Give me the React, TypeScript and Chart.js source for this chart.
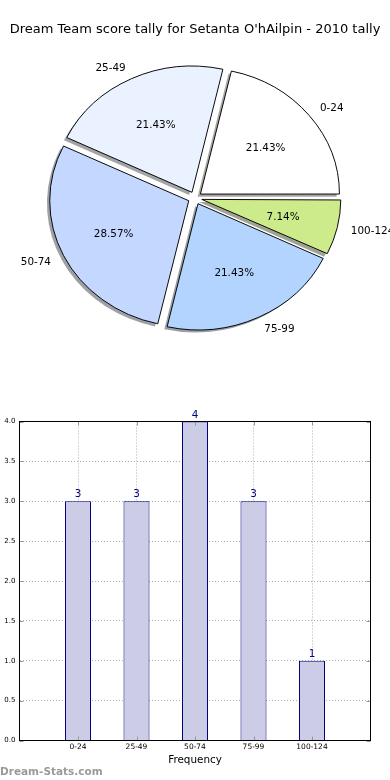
import React, { useEffect, useRef } from 'react';
import { Chart, registerables } from 'chart.js';

Chart.register(...registerables);

// ---- data ----
const TITLE = "Dream Team score tally for Setanta O'hAilpin - 2010 tally";
const CATEGORIES = ['0-24', '25-49', '50-74', '75-99', '100-124'];
const COUNTS = [3, 3, 4, 3, 1];
const SLICE_COLORS = ['#ffffff', '#eaf2ff', '#c4d8ff', '#b3d4ff', '#cdeb8b'];
const Y_MIN = 0;
const Y_MAX = 4;
const Y_STEP = 0.5;
const X_AXIS_TITLE = 'Frequency';
const WATERMARK = 'Dream-Stats.com';

// ---- style ----
const FONT = '"DejaVu Sans", sans-serif';
const PIE_RADIUS = 139;
const EXPLODE = 6.95;
const Y_SQUASH = 0.908;
const SHADOW_DX = -2.8;
const SHADOW_DY = 2.6;
const BAR_FILL = '#ccccE6';
const BAR_EDGE = '#000080';
const GRID_COLOR = '#b0b0b0';
const TEXT_NUDGE = 1;

function shadowColor(hex: string) {
  const h = hex.replace('#', '');
  const r = parseInt(h.slice(0, 2), 16) * 0.3;
  const g = parseInt(h.slice(2, 4), 16) * 0.3;
  const b = parseInt(h.slice(4, 6), 16) * 0.3;
  return `rgba(${r.toFixed(0)},${g.toFixed(0)},${b.toFixed(0)},0.5)`;
}

function sliceGeom(el: any) {
  const o = (el.options.offset || 0) / 4;
  const fix = 1 - Math.sin(Math.min(Math.PI, el.circumference || 0));
  return { shift: o, radius: el.outerRadius + o * fix };
}

const piePlugin = {
  id: 'pieExtras',
  afterDatasetsUpdate(chart: any) {
    chart.getDatasetMeta(0).data.forEach((el: any) => {
      const o = (el.options.offset || 0) / 4;
      const fix = 1 - Math.sin(Math.min(Math.PI, el.circumference || 0));
      el.outerRadius -= o * fix;
    });
  },
  beforeDatasetsDraw(chart: any) {
    const { ctx } = chart;
    const meta = chart.getDatasetMeta(0);
    const el0 = meta.data[0];
    const cx = el0.x;
    const cy = el0.y;
    ctx.save();
    ctx.translate(cx, cy);
    ctx.scale(1, Y_SQUASH);
    ctx.translate(-cx, -cy);
    meta.data.forEach((el: any) => {
      const { shift, radius } = sliceGeom(el);
      const mid = (el.startAngle + el.endAngle) / 2;
      const ox = el.x + Math.cos(mid) * shift + SHADOW_DX;
      const oy = el.y + Math.sin(mid) * shift + SHADOW_DY / Y_SQUASH;
      ctx.beginPath();
      ctx.moveTo(ox, oy);
      ctx.arc(ox, oy, radius, el.startAngle, el.endAngle);
      ctx.closePath();
      ctx.fillStyle = shadowColor(el.options.backgroundColor);
      ctx.fill();
    });
  },
  afterDatasetsDraw(chart: any) {
    const { ctx } = chart;
    ctx.restore();
    const meta = chart.getDatasetMeta(0);
    const values: number[] = chart.data.datasets[0].data;
    const total = values.reduce((a, b) => a + b, 0);
    ctx.save();
    ctx.font = `10.4px ${FONT}`;
    ctx.fillStyle = '#000';
    ctx.textBaseline = 'middle';
    meta.data.forEach((el: any, i: number) => {
      const { shift, radius } = sliceGeom(el);
      const mid = (el.startAngle + el.endAngle) / 2;
      const c = Math.cos(mid);
      const s = Math.sin(mid);
      const lr = shift + 1.1 * radius;
      ctx.textAlign = c > 0 ? 'left' : 'right';
      ctx.fillText(chart.data.labels[i], el.x + c * lr, el.y + s * lr * Y_SQUASH + TEXT_NUDGE);
      const pr = shift + 0.6 * radius;
      ctx.textAlign = 'center';
      const pct = ((values[i] / total) * 100).toFixed(2) + '%';
      ctx.fillText(pct, el.x + c * pr, el.y + s * pr * Y_SQUASH + TEXT_NUDGE);
    });
    ctx.restore();
  },
};

const barPlugin = {
  id: 'barExtras',
  afterDraw(chart: any) {
    const { ctx, chartArea: a } = chart;
    ctx.save();
    // inward tick marks
    ctx.strokeStyle = '#999';
    ctx.lineWidth = 1;
    const ys = chart.scales.y;
    ys.ticks.forEach((t: any) => {
      const py = Math.round(ys.getPixelForValue(t.value)) + 0.5;
      ctx.beginPath();
      ctx.moveTo(a.left, py);
      ctx.lineTo(a.left + 4, py);
      ctx.moveTo(a.right - 4, py);
      ctx.lineTo(a.right, py);
      ctx.stroke();
    });
    const xs = chart.scales.x;
    xs.ticks.forEach((t: any) => {
      if (t.value <= xs.min || t.value >= xs.max) return;
      const px = Math.round(xs.getPixelForValue(t.value)) + 0.5;
      ctx.beginPath();
      ctx.moveTo(px, a.bottom);
      ctx.lineTo(px, a.bottom - 4);
      ctx.moveTo(px, a.top);
      ctx.lineTo(px, a.top + 4);
      ctx.stroke();
    });
    // frame
    ctx.strokeStyle = '#000';
    ctx.strokeRect(a.left, a.top, a.right - a.left, a.bottom - a.top);
    // value labels
    const meta = chart.getDatasetMeta(0);
    const data = chart.data.datasets[0].data;
    ctx.font = `10.4px ${FONT}`;
    ctx.fillStyle = BAR_EDGE;
    ctx.textAlign = 'center';
    ctx.textBaseline = 'alphabetic';
    meta.data.forEach((el: any, i: number) => {
      ctx.fillText(String(data[i].y), el.x, el.y - 4);
    });
    // watermark
    ctx.font = `bold 10.5px ${FONT}`;
    ctx.fillStyle = '#9a9a9a';
    ctx.textAlign = 'left';
    ctx.fillText(WATERMARK, 0, chart.height - 5);
    ctx.restore();
  },
};

export default function App() {
  const pieRef = useRef<HTMLCanvasElement>(null);
  const barRef = useRef<HTMLCanvasElement>(null);

  useEffect(() => {
    const pieLabels = [...CATEGORIES].reverse();
    const pieValues = [...COUNTS].reverse();
    const pieColors = [...SLICE_COLORS].reverse();

    const pie = new Chart(pieRef.current as HTMLCanvasElement, {
      type: 'pie',
      data: {
        labels: pieLabels,
        datasets: [
          {
            data: pieValues,
            backgroundColor: pieColors,
            borderColor: '#000',
            borderWidth: 1,
            offset: 4 * EXPLODE,
            hoverOffset: 0,
            radius: PIE_RADIUS,
          } as any,
        ],
      },
      options: {
        animation: false,
        responsive: false,
        devicePixelRatio: 1,
        events: [],
        rotation: 90,
        layout: { padding: 0 },
        plugins: {
          legend: { display: false },
          tooltip: { enabled: false },
          title: {
            display: true,
            text: TITLE,
            color: '#000',
            font: { family: FONT, size: 13, weight: 'normal' },
            padding: { top: 22, bottom: 0.4 },
          },
        },
      } as any,
      plugins: [piePlugin as any],
    });

    const bar = new Chart(barRef.current as HTMLCanvasElement, {
      type: 'bar',
      data: {
        datasets: [
          {
            data: CATEGORIES.map((c, i) => ({ x: i + 1, y: COUNTS[i] })),
            backgroundColor: BAR_FILL,
            borderColor: BAR_EDGE,
            borderWidth: 1,
            barPercentage: 0.445,
            categoryPercentage: 1,
          } as any,
        ],
      },
      options: {
        animation: false,
        responsive: false,
        devicePixelRatio: 1,
        events: [],
        layout: { padding: { top: 21.5, right: 19.5, left: 0, bottom: 0 } },
        plugins: { legend: { display: false }, tooltip: { enabled: false } },
        scales: {
          x: {
            type: 'linear',
            min: 0,
            max: CATEGORIES.length + 1,
            offset: false,
            z: 1,
            afterFit: (s: any) => {
              s.height = 39.5;
            },
            ticks: {
              stepSize: 1,
              autoSkip: false,
              maxRotation: 0,
              padding: 2.5,
              color: '#000',
              font: { family: FONT, size: 7.5 },
              callback: (v: any) => CATEGORIES[Number(v) - 1] ?? '',
            },
            grid: {
              offset: false,
              drawTicks: false,
              lineWidth: 1,
              color: (ctx: any) =>
                ctx.tick && (ctx.tick.value <= 0 || ctx.tick.value >= CATEGORIES.length + 1)
                  ? 'rgba(0,0,0,0)'
                  : GRID_COLOR,
            },
            border: { display: false, dash: [1, 2] },
            title: {
              display: true,
              text: X_AXIS_TITLE,
              color: '#000',
              font: { family: FONT, size: 10.4 },
              padding: { top: 0, bottom: 13 },
            },
          },
          y: {
            min: Y_MIN,
            max: Y_MAX,
            z: 1,
            afterFit: (s: any) => {
              s.width = 19.5;
            },
            ticks: {
              stepSize: Y_STEP,
              padding: 4,
              color: '#000',
              font: { family: FONT, size: 7 },
              callback: (v: any) => Number(v).toFixed(1),
            },
            grid: {
              drawTicks: false,
              lineWidth: 1,
              color: (ctx: any) =>
                ctx.tick && (ctx.tick.value <= Y_MIN || ctx.tick.value >= Y_MAX)
                  ? 'rgba(0,0,0,0)'
                  : GRID_COLOR,
            },
            border: { display: false, dash: [1, 2] },
          },
        },
      } as any,
      plugins: [barPlugin as any],
    });

    return () => {
      pie.destroy();
      bar.destroy();
    };
  }, []);

  return (
    <div style={{ position: 'absolute', left: 0, top: 0, width: 390, height: 780, background: '#fff' }}>
      <canvas ref={pieRef} width={390} height={358} style={{ position: 'absolute', left: 0, top: 0, display: 'block' }} />
      <canvas ref={barRef} width={390} height={380} style={{ position: 'absolute', left: 0, top: 400, display: 'block' }} />
    </div>
  );
}
